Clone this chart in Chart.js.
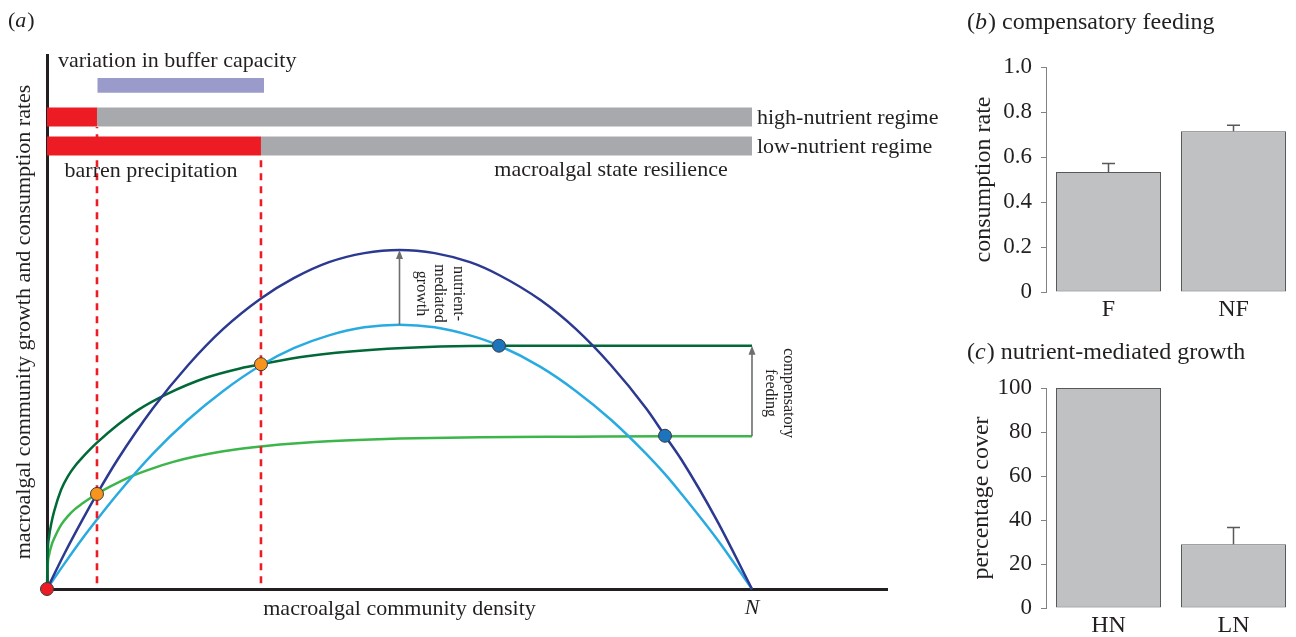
<!DOCTYPE html>
<html>
<head>
<meta charset="utf-8">
<title>Macroalgal resilience: growth, consumption and buffer capacity</title>
<script src="https://cdn.jsdelivr.net/npm/chart.js@4.4.0/dist/chart.umd.min.js"></script>
<style>
  html, body { margin: 0; padding: 0; background: #ffffff; }
  #figure { position: relative; width: 1296px; height: 637px; overflow: hidden; }
  #figure canvas { position: absolute; display: block; }
</style>
</head>
<body>
<div id="figure">
  <canvas id="panelA" width="950" height="637" style="left:0;top:0"></canvas>
  <canvas id="panelB" width="346" height="330" style="left:950px;top:0"></canvas>
  <canvas id="panelC" width="346" height="307" style="left:950px;top:330px"></canvas>
</div>
<script>
// ---------------------------------------------------------------------------
// Panel (a): density is expressed as a fraction of carrying capacity N,
// rates on a relative 0–1 scale.
// ---------------------------------------------------------------------------
const densityGrowth = [0, 0.025, 0.05, 0.0709, 0.1, 0.15, 0.2, 0.25, 0.3035, 0.35, 0.4, 0.45, 0.5,
                       0.55, 0.6, 0.6411, 0.7, 0.75, 0.8, 0.85, 0.8766, 0.9, 0.95, 1.0];
const growthHighNutrient = [0, 0.067, 0.129, 0.178, 0.242, 0.338, 0.419, 0.487, 0.544, 0.582, 0.612, 0.629, 0.635,
                            0.629, 0.612, 0.588, 0.541, 0.487, 0.419, 0.338, 0.287, 0.242, 0.129, 0];
const growthLowNutrient  = [0, 0.048, 0.094, 0.130, 0.178, 0.253, 0.317, 0.371, 0.419, 0.451, 0.475, 0.490, 0.495,
                            0.490, 0.475, 0.456, 0.416, 0.371, 0.317, 0.253, 0.215, 0.178, 0.094, 0];

const densityConsumptionHigh = [0, 0.001, 0.003, 0.006, 0.01, 0.02, 0.03, 0.04, 0.05, 0.06, 0.0709, 0.1, 0.13,
                                0.17, 0.2265, 0.2738, 0.3035, 0.3684, 0.4624, 0.5574, 0.6411, 0.8, 1.0];
const consumptionHigh = [0, 0.068, 0.098, 0.122, 0.145, 0.186, 0.212, 0.231, 0.246, 0.260, 0.274, 0.307, 0.336,
                         0.365, 0.396, 0.413, 0.421, 0.436, 0.448, 0.454, 0.4556, 0.4556, 0.4556];

const densityConsumptionLow = [0, 0.001, 0.003, 0.0067, 0.01, 0.02, 0.03, 0.04, 0.05, 0.06, 0.0709, 0.09, 0.1177,
                               0.15, 0.1791, 0.21, 0.2501, 0.29, 0.3305, 0.38, 0.44, 0.5, 0.614, 0.75, 0.8766, 1.0];
const consumptionLow = [0, 0.044, 0.064, 0.083, 0.094, 0.120, 0.137, 0.150, 0.160, 0.169, 0.178, 0.192, 0.210,
                        0.226, 0.238, 0.248, 0.258, 0.265, 0.2705, 0.2754, 0.2792, 0.2817, 0.2842, 0.2853, 0.2862, 0.2862];

// equilibria: unstable barren origin, thresholds (orange) and stable macroalgal states (blue)
const equilibriumDensity = [0, 0.0709, 0.3035, 0.6411, 0.8766];
const equilibriumRate    = [0, 0.178, 0.421, 0.4556, 0.287];

// density at which barren precipitation gives way to macroalgal resilience
const thresholdHighNutrient = 0.0709;
const thresholdLowNutrient  = 0.3035;
const bufferRange = [0.0716, 0.3078];
const carryingCapacity = 1.0;

// ---------------------------------------------------------------------------
// Panels (b) and (c): bar means with standard errors
// ---------------------------------------------------------------------------
const feedingLabels = ['F', 'NF'];
const feedingRate   = [0.533, 0.714];
const feedingError  = [0.038, 0.027];
const feedingTicks  = [0, 0.2, 0.4, 0.6, 0.8, 1.0];

const growthLabels = ['HN', 'LN'];
const growthCover  = [100, 29.0];
const growthError  = [0, 7.6];
const growthTicks  = [0, 20, 40, 60, 80, 100];

// ---------------------------------------------------------------------------
// styling
// ---------------------------------------------------------------------------
const SERIF = "'Liberation Serif', 'Times New Roman', serif";
const INK = '#231f20';
const COLORS = {
  growthHigh: '#2b3990', growthLow: '#29abe2',
  consHigh: '#006937', consLow: '#3cb54a',
  barren: '#ed1c24', resilient: '#a7a9ac', buffer: '#9b9bcb',
  arrow: '#6d6e70'
};
const equilibriumColors = ['#ed1c24', '#f7941d', '#f7941d', '#1c75bc', '#1c75bc'];
// vertical placement (in rate units) of the regime bands above the curves
const bandLevel = { buffer: 0.9433, high: 0.8839, low: 0.8296, dashBottom: 0.011 };
const densityMax = 1.1915;

Chart.defaults.font.family = SERIF;
Chart.defaults.color = INK;

const pts = (xs, ys) => xs.map((x, i) => ({ x, y: ys[i] }));
const curve = (xs, ys, color, order) => ({
  data: pts(xs, ys), borderColor: color, borderWidth: 2.5, pointRadius: 0, fill: false,
  cubicInterpolationMode: 'monotone', clip: false, order
});
const band = (x0, x1, level, color, width, order) => ({
  data: [{ x: x0, y: level }, { x: x1, y: level }], borderColor: color, borderWidth: width,
  borderCapStyle: 'butt', pointRadius: 0, fill: false, tension: 0, clip: false, order
});
const dashed = (x, top, order) => ({
  data: [{ x, y: bandLevel.dashBottom }, { x, y: top }], borderColor: COLORS.barren, borderWidth: 2.6,
  borderDash: [7, 6], borderCapStyle: 'butt', pointRadius: 0, fill: false, tension: 0, clip: false, order
});

function drawText(ctx, s, x, y, opt = {}) {
  const { size = 22, align = 'left', style = '', rot = 0, baseline = 'alphabetic' } = opt;
  ctx.save();
  ctx.translate(x, y);
  if (rot) ctx.rotate(rot);
  ctx.font = `${style} ${size}px ${SERIF}`.trim();
  ctx.fillStyle = INK;
  ctx.textAlign = align;
  ctx.textBaseline = baseline;
  ctx.fillText(s, 0, 0);
  ctx.restore();
}

// panel label such as "(a)" with an italic letter
function drawPanelTag(ctx, letter, rest, x, y, size) {
  ctx.save();
  ctx.fillStyle = INK;
  ctx.textBaseline = 'alphabetic';
  ctx.textAlign = 'left';
  ctx.font = `${size}px ${SERIF}`;
  ctx.fillText('(', x, y);
  x += ctx.measureText('(').width;
  ctx.font = `italic ${size}px ${SERIF}`;
  ctx.fillText(letter, x, y);
  x += ctx.measureText(letter).width + 1;
  ctx.font = `${size}px ${SERIF}`;
  ctx.fillText(')' + rest, x, y);
  ctx.restore();
}

function drawArrow(ctx, x, yFrom, yTo) {
  ctx.save();
  ctx.strokeStyle = COLORS.arrow;
  ctx.fillStyle = COLORS.arrow;
  ctx.lineWidth = 1.6;
  ctx.beginPath();
  ctx.moveTo(x, yFrom);
  ctx.lineTo(x, yTo + 6);
  ctx.stroke();
  ctx.beginPath();
  ctx.moveTo(x, yTo);
  ctx.lineTo(x - 3.5, yTo + 9);
  ctx.lineTo(x + 3.5, yTo + 9);
  ctx.closePath();
  ctx.fill();
  ctx.restore();
}

const panelAText = {
  id: 'panelAText',
  afterDraw(chart) {
    const { ctx, chartArea: ca } = chart;
    const xs = chart.scales.x, ys = chart.scales.y;
    const px = v => xs.getPixelForValue(v), py = v => ys.getPixelForValue(v);

    // arrows: nutrient-mediated growth and compensatory feeding
    const iPeak = densityGrowth.indexOf(0.5);
    drawArrow(ctx, px(0.5), py(growthLowNutrient[iPeak]), py(growthHighNutrient[iPeak]));
    drawArrow(ctx, px(carryingCapacity), py(consumptionLow[consumptionLow.length - 1]),
              py(consumptionHigh[consumptionHigh.length - 1]));

    drawPanelTag(ctx, 'a', '', 8, 27, 22);
    drawText(ctx, 'variation in buffer capacity', ca.left + 11, 67);
    drawText(ctx, 'high-nutrient regime', px(carryingCapacity) + 5, py(bandLevel.high) + 7);
    drawText(ctx, 'low-nutrient regime', px(carryingCapacity) + 5, py(bandLevel.low) + 7);
    drawText(ctx, 'barren precipitation', 151, 177, { align: 'center' });
    drawText(ctx, 'macroalgal state resilience', 611, 176, { align: 'center' });
    drawText(ctx, 'macroalgal community density', px(0.5), 615, { align: 'center' });
    drawText(ctx, 'N', px(carryingCapacity), 614, { align: 'center', style: 'italic' });
    drawText(ctx, 'macroalgal community growth and consumption rates', 30, (ca.top + ca.bottom) / 2,
             { align: 'center', rot: -Math.PI / 2 });

    const cw = Math.PI / 2, mid1 = 293.5, mid2 = 393;
    drawText(ctx, 'nutrient-', 453.5, mid1, { size: 16, align: 'center', rot: cw });
    drawText(ctx, 'mediated', 435, mid1, { size: 16, align: 'center', rot: cw });
    drawText(ctx, 'growth', 416.5, mid1, { size: 16, align: 'center', rot: cw });
    drawText(ctx, 'compensatory', 784, mid2, { size: 16, align: 'center', rot: cw });
    drawText(ctx, 'feeding', 765.5, mid2, { size: 16, align: 'center', rot: cw });
  }
};

new Chart(document.getElementById('panelA'), {
  type: 'line',
  data: {
    datasets: [
      {
        type: 'scatter', data: pts(equilibriumDensity, equilibriumRate), showLine: false,
        pointRadius: 6.5, pointBackgroundColor: equilibriumColors, pointBorderColor: '#3b3b3b',
        pointBorderWidth: 1, clip: false, order: 0
      },
      dashed(thresholdHighNutrient, 0.865, 1),
      dashed(thresholdLowNutrient, 0.811, 1),
      curve(densityGrowth, growthHighNutrient, COLORS.growthHigh, 2),
      curve(densityGrowth, growthLowNutrient, COLORS.growthLow, 3),
      curve(densityConsumptionHigh, consumptionHigh, COLORS.consHigh, 4),
      curve(densityConsumptionLow, consumptionLow, COLORS.consLow, 5),
      band(bufferRange[0], bufferRange[1], bandLevel.buffer, COLORS.buffer, 14.7, 6),
      band(0, thresholdHighNutrient, bandLevel.high, COLORS.barren, 19, 6),
      band(thresholdHighNutrient, carryingCapacity, bandLevel.high, COLORS.resilient, 19, 6),
      band(0, thresholdLowNutrient, bandLevel.low, COLORS.barren, 19, 6),
      band(thresholdLowNutrient, carryingCapacity, bandLevel.low, COLORS.resilient, 19, 6)
    ]
  },
  options: {
    responsive: false, animation: false, events: [],
    layout: { padding: { left: 47, top: 55, right: 63, bottom: 48 } },
    plugins: { legend: { display: false }, tooltip: { enabled: false } },
    scales: {
      x: {
        type: 'linear', min: 0, max: densityMax,
        grid: { display: false, drawTicks: false }, ticks: { display: false },
        border: { display: true, color: INK, width: 3 },
        afterFit(s) { s.height = 0; }
      },
      y: {
        type: 'linear', min: 0, max: 1,
        grid: { display: false, drawTicks: false }, ticks: { display: false },
        border: { display: true, color: INK, width: 3 },
        afterFit(s) { s.width = 0; }
      }
    }
  },
  plugins: [panelAText]
});

// ---------------------------------------------------------------------------
// bar panels
// ---------------------------------------------------------------------------
const errorBars = {
  id: 'errorBars',
  afterDatasetsDraw(chart, args, opts) {
    const { ctx } = chart;
    const meta = chart.getDatasetMeta(0);
    const ys = chart.scales.y;
    const values = chart.data.datasets[0].data;
    ctx.save();
    ctx.strokeStyle = '#58595b';
    ctx.lineWidth = 1.5;
    meta.data.forEach((bar, i) => {
      const err = opts.errors[i];
      if (!err) return;
      const yTop = ys.getPixelForValue(values[i] + err);
      const yBar = ys.getPixelForValue(values[i]);
      ctx.beginPath();
      ctx.moveTo(bar.x, yBar);
      ctx.lineTo(bar.x, yTop);
      ctx.moveTo(bar.x - 6.5, yTop);
      ctx.lineTo(bar.x + 6.5, yTop);
      ctx.stroke();
    });
    ctx.restore();
  }
};

const barTitles = {
  id: 'barTitles',
  afterDraw(chart, args, opts) {
    const { ctx, chartArea: ca } = chart;
    drawPanelTag(ctx, opts.letter, ' ' + opts.title, 17, opts.titleBaseline, 24);
    drawText(ctx, opts.axisTitle, opts.axisBaseline, (ca.top + ca.bottom) / 2,
             { size: 24, align: 'center', rot: -Math.PI / 2 });
  }
};

function barPanel(id, labels, values, errors, ticks, fmt, cfg) {
  return new Chart(document.getElementById(id), {
    type: 'bar',
    data: {
      labels,
      datasets: [{
        data: values, backgroundColor: '#c0c1c3', borderColor: '#58595b', borderWidth: 1,
        borderSkipped: false, categoryPercentage: 1, barPercentage: 0.84
      }]
    },
    options: {
      responsive: false, animation: false, events: [],
      layout: { padding: { left: 0, top: cfg.top, right: 0, bottom: 0 } },
      plugins: {
        legend: { display: false }, tooltip: { enabled: false },
        errorBars: { errors },
        barTitles: cfg.titles
      },
      scales: {
        x: {
          grid: { display: false, drawTicks: false }, border: { display: false },
          ticks: { font: { family: SERIF, size: 24 }, color: INK, padding: cfg.labelPad },
          afterFit(s) { s.height = cfg.bottom; }
        },
        y: {
          min: ticks[0], max: ticks[ticks.length - 1],
          afterBuildTicks(s) { s.ticks = ticks.map(v => ({ value: v })); },
          ticks: { font: { family: SERIF, size: 23 }, color: INK, padding: 9, callback: fmt },
          grid: { drawOnChartArea: false, tickLength: 5, color: '#808285', lineWidth: 1 },
          border: { color: '#808285', width: 1 },
          afterFit(s) { s.width = 96; }
        }
      }
    },
    plugins: [errorBars, barTitles]
  });
}

barPanel('panelB', feedingLabels, feedingRate, feedingError, feedingTicks,
  v => (v === 0 ? '0' : v.toFixed(1)),
  { top: 67, bottom: 38, labelPad: 3,
    titles: { letter: 'b', title: 'compensatory feeding', titleBaseline: 29,
              axisTitle: 'consumption rate', axisBaseline: 40 } });

barPanel('panelC', growthLabels, growthCover, growthError, growthTicks,
  v => String(v),
  { top: 58, bottom: 29, labelPad: 3,
    titles: { letter: 'c', title: 'nutrient-mediated growth', titleBaseline: 29,
              axisTitle: 'percentage cover', axisBaseline: 38 } });
</script>
</body>
</html>
